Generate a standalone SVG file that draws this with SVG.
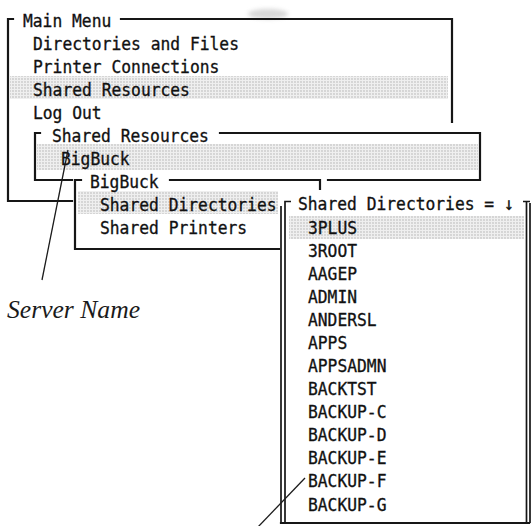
<svg xmlns="http://www.w3.org/2000/svg" width="532" height="526" viewBox="0 0 532 526">
  <defs>
    <!-- halftone fill for the highlighted menu row -->
    <pattern id="dots" width="3" height="3" patternUnits="userSpaceOnUse">
      <rect width="3" height="3" fill="#efefef"/>
      <circle cx="1" cy="1" r="0.65" fill="#a8a8a8"/>
    </pattern>
    <filter id="soft" x="-50%" y="-50%" width="200%" height="200%">
      <feGaussianBlur stdDeviation="2.2"/>
    </filter>
  </defs>
  <style>
    /* terminal-style menu text: 9.8px character cells, stretched a little taller */
    .t { font-family: "DejaVu Sans Mono", "Liberation Mono", monospace; font-size: 16.3px; fill: #111111; stroke: #111111; stroke-width: 0.3;
         transform: scaleY(1.1); transform-box: fill-box; transform-origin: center; }
    .b { fill: none; stroke: #161616; stroke-width: 2.2; stroke-linecap: square; }
    .b2 { fill: none; stroke: #161616; stroke-width: 1.7; }
    .hl { fill: url(#dots); }
    .ptr { fill: none; stroke: #1c1c1c; stroke-width: 1.3; }
    .cap { font-family: "Liberation Serif", "DejaVu Serif", serif; font-style: italic; font-size: 25px; fill: #1a1a1a; }
  </style>

  <rect width="532" height="526" fill="#ffffff"/>
  <ellipse cx="268" cy="14" rx="20" ry="5" fill="#b8b8b8" opacity="0.55" filter="url(#soft)"/>

  <!-- Main Menu window -->
  <g id="main-menu">
    <rect class="hl" x="10" y="76" width="438" height="23"/>
    <path class="b" d="M13 19 H8 V201 H72"/>
    <path class="b" d="M121 19 H452 V122"/>
    <text class="t" x="23" y="26">Main Menu</text>
    <text class="t" x="33" y="49">Directories and Files</text>
    <text class="t" x="33" y="72">Printer Connections</text>
    <text class="t" x="33" y="95">Shared Resources</text>
    <text class="t" x="33" y="118">Log Out</text>
  </g>

  <!-- Shared Resources window -->
  <g id="shared-resources">
    <rect class="hl" x="37" y="144" width="441" height="26"/>
    <path class="b" d="M40 133 H35 V180 H72"/>
    <path class="b" d="M220 133 H480 V180 H328"/>
    <text class="t" x="52" y="141.2">Shared Resources</text>
    <text class="t" x="61" y="164.2">BigBuck</text>
  </g>

  <!-- BigBuck server window -->
  <g id="bigbuck">
    <rect class="hl" x="78" y="191" width="200" height="23"/>
    <path class="b" d="M81 180 H75 V249 H279"/>
    <path class="b" d="M170 180 H320 V189"/>
    <text class="t" x="90" y="187.3">BigBuck</text>
    <text class="t" x="100" y="210.3">Shared Directories</text>
    <text class="t" x="100" y="233.4">Shared Printers</text>
  </g>

  <!-- Shared Directories list window -->
  <g id="shared-directories">
    <rect class="hl" x="289" y="216" width="235" height="23"/>
    <path class="b2" d="M291 201.5 H285 V523"/>
    <path class="b2" d="M281 206 V523"/>
    <path class="b" d="M281 523 H529"/>
    <path class="b2" d="M523 201.5 H530 M526.5 201.5 V523 M530 203 V523"/>
    <text class="t" x="298" y="209.8">Shared Directories = ↓</text>
    <text class="t" x="308" y="233.4">3PLUS</text>
    <text class="t" x="308" y="256.4">3ROOT</text>
    <text class="t" x="308" y="279.5">AAGEP</text>
    <text class="t" x="308" y="302.5">ADMIN</text>
    <text class="t" x="308" y="325.6">ANDERSL</text>
    <text class="t" x="308" y="348.6">APPS</text>
    <text class="t" x="308" y="371.7">APPSADMN</text>
    <text class="t" x="308" y="394.7">BACKTST</text>
    <text class="t" x="308" y="417.8">BACKUP-C</text>
    <text class="t" x="308" y="440.8">BACKUP-D</text>
    <text class="t" x="308" y="463.9">BACKUP-E</text>
    <text class="t" x="308" y="486.9">BACKUP-F</text>
    <text class="t" x="308" y="510">BACKUP-G</text>
  </g>

  <!-- callout lines -->
  <g id="connectors">
    <path class="ptr" d="M68 150 L42 280"/>
    <path class="ptr" d="M305 478 L257 528"/>
  </g>

  <g id="server-name-label">
    <text class="cap" x="7" y="318" textLength="133" lengthAdjust="spacingAndGlyphs">Server Name</text>
  </g>
</svg>
